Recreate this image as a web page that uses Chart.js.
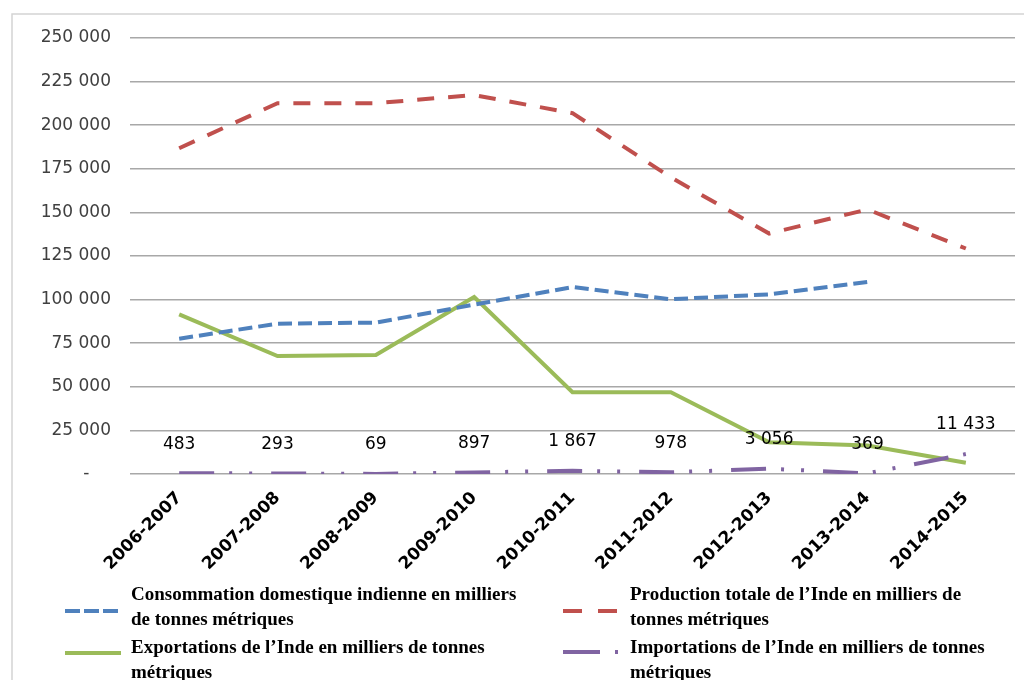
<!DOCTYPE html>
<html>
<head>
<meta charset="utf-8">
<script src="https://cdn.jsdelivr.net/npm/chart.js"></script>
<style>
  html, body { margin: 0; padding: 0; background: #fff; }
  #chart { display: block; }
</style>
</head>
<body>
<canvas id="chart" width="1024" height="680"></canvas>
<script>
// Data (thousands of metric tonnes)
const categories = ['2006-2007', '2007-2008', '2008-2009', '2009-2010', '2010-2011',
                    '2011-2012', '2012-2013', '2013-2014', '2014-2015'];
const consommation = [77600, 86200, 86800, 97100, 107200, 100200, 103000, 110100, null];
const production = [186800, 212600, 212600, 217300, 206900, 170100, 137900, 151700, 129300];
const exportations = [91500, 67600, 68200, 101500, 46900, 46900, 18200, 16300, 6500];
const importations = [483, 293, 69, 897, 1867, 978, 3056, 369, 11433];
const yTicks = [0, 25000, 50000, 75000, 100000, 125000, 150000, 175000, 200000, 225000, 250000];

const legendNames = [
  ['Consommation domestique indienne en milliers', 'de tonnes métriques'],
  ['Production totale de l’Inde en milliers de', 'tonnes métriques'],
  ['Exportations de l’Inde en milliers de tonnes', 'métriques'],
  ['Importations de l’Inde en milliers de tonnes', 'métriques']
];

const fmt = v => String(v).replace(/\B(?=(\d{3})+(?!\d))/g, ' ');

const BLUE = '#4f81bd', RED = '#c0504d', GREEN = '#9bbb59', PURPLE = '#8064a2';
const dashes = {
  blue: [14, 6],
  red: [17, 14],
  green: [],
  purple: [35, 15, 3, 17, 3, 19]
};

// frame around the chart, like the spreadsheet chart box
const framePlugin = {
  id: 'frame',
  beforeDraw(chart) {
    const ctx = chart.ctx;
    ctx.save();
    ctx.fillStyle = '#fff';
    ctx.fillRect(0, 0, chart.width, chart.height);
    ctx.strokeStyle = '#d4d4d4';
    ctx.lineWidth = 1.5;
    ctx.strokeRect(12, 14, 1100, 800);
    ctx.restore();
  }
};

// value labels above the import line
const importLabels = {
  id: 'importLabels',
  afterDatasetsDraw(chart) {
    const meta = chart.getDatasetMeta(3);
    const ctx = chart.ctx;
    ctx.save();
    ctx.font = '17px "DejaVu Sans"';
    ctx.fillStyle = '#000';
    ctx.textAlign = 'center';
    ctx.textBaseline = 'middle';
    meta.data.forEach((pt, i) => {
      ctx.fillText(fmt(importations[i]), pt.x, pt.y - 29);
    });
    ctx.restore();
  }
};

// two-column legend with wrapped text
const legendPlugin = {
  id: 'wrapLegend',
  afterDraw(chart) {
    const ctx = chart.ctx;
    const items = [
      { color: BLUE, dash: [15, 4], x: 65, y: 611, tx: 131, ty: 600, names: legendNames[0] },
      { color: RED, dash: [19, 16], x: 563, y: 611, tx: 630, ty: 600, names: legendNames[1] },
      { color: GREEN, dash: [], x: 65, y: 653, tx: 131, ty: 653, names: legendNames[2] },
      { color: PURPLE, dash: [37, 15, 3, 50], x: 563, y: 652, tx: 630, ty: 653, names: legendNames[3] }
    ];
    ctx.save();
    items.forEach(it => {
      ctx.strokeStyle = it.color;
      ctx.lineWidth = 4;
      ctx.setLineDash(it.dash);
      ctx.beginPath();
      ctx.moveTo(it.x, it.y);
      ctx.lineTo(it.x + 56, it.y);
      ctx.stroke();
      ctx.setLineDash([]);
      ctx.fillStyle = '#000';
      ctx.font = 'bold 19px "Liberation Serif"';
      ctx.textAlign = 'left';
      ctx.textBaseline = 'alphabetic';
      ctx.fillText(it.names[0], it.tx, it.ty);
      ctx.fillText(it.names[1], it.tx, it.ty + 25);
    });
    ctx.restore();
  }
};

const lineDs = (label, data, color, dash, order) => ({
  label, data,
  borderColor: color,
  backgroundColor: color,
  borderWidth: 4,
  borderDash: dash,
  borderCapStyle: 'butt',
  pointRadius: 0,
  pointHoverRadius: 0,
  tension: 0,
  fill: false,
  spanGaps: false,
  order
});

new Chart('chart', {
  type: 'line',
  data: {
    labels: categories,
    datasets: [
      lineDs(legendNames[0].join(' '), consommation, BLUE, dashes.blue, 3),
      lineDs(legendNames[1].join(' '), production, RED, dashes.red, 2),
      lineDs(legendNames[2].join(' '), exportations, GREEN, dashes.green, 4),
      lineDs(legendNames[3].join(' '), importations, PURPLE, dashes.purple, 1)
    ]
  },
  options: {
    responsive: false,
    animation: false,
    layout: { padding: { left: 0, top: 38, right: 9, bottom: 0 } },
    plugins: {
      legend: { display: false },
      tooltip: { enabled: false },
      title: { display: false }
    },
    scales: {
      x: {
        offset: true,
        grid: { display: false },
        border: { display: false },
        ticks: {
          minRotation: 45,
          maxRotation: 45,
          autoSkip: false,
          padding: 6,
          color: '#000',
          font: { family: 'DejaVu Sans', size: 17, weight: 'bold' }
        },
        afterFit(scale) { scale.height = 206; }
      },
      y: {
        min: 0,
        max: 250000,
        afterBuildTicks(scale) { scale.ticks = yTicks.map(v => ({ value: v })); },
        grid: { color: '#a8a8a8', lineWidth: 1.6, drawTicks: false },
        border: { display: false },
        ticks: {
          padding: 19,
          color: '#404040',
          font: { family: 'DejaVu Sans', size: 17 },
          callback: v => (v === 0 ? '-    ' : fmt(v))
        },
        afterFit(scale) { scale.width = 130; }
      }
    }
  },
  plugins: [framePlugin, importLabels, legendPlugin]
});
</script>
</body>
</html>
